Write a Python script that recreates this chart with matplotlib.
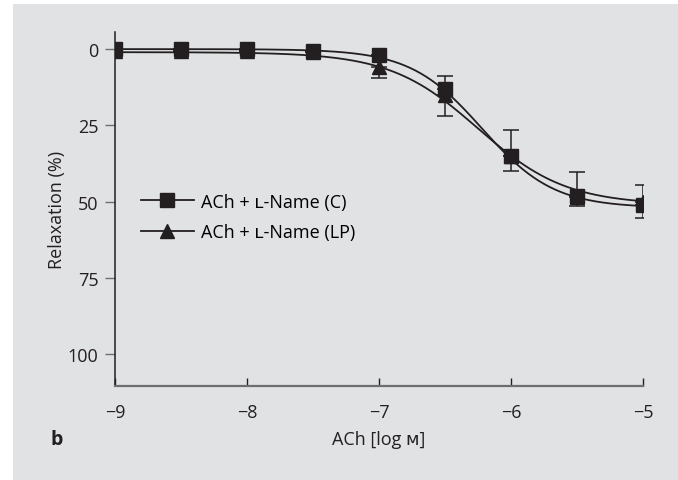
import matplotlib.pyplot as plt
from matplotlib.patches import Rectangle
import numpy as np

plt.rcParams['font.family'] = ['Open Sans', 'DejaVu Sans']

# data
log_ach = [-9, -8.5, -8, -7.5, -7, -6.5, -6, -5.5, -5]
relax_c = [0, 0, 0, 0.5, 2, 13, 35, 48, 51]
err_c = [0, 0, 0, 0, 0, 4.3, 8.5, 7.6, 6.5]  # drawn upward
relax_lp = [0.5, 0.5, 0.5, 1, 6, 15, 35, 48.5, 50]
err_lp = [0, 0, 0, 0, 3.5, 7, 5, 3, 5.4]  # drawn downward

# sigmoid fit parameters (top, bottom, logEC50, hill)
fit_c = [0, 52, -6.22, 1.6]
fit_lp = [1, 51, -6.25, 1.3]

x_ticks = [-9, -8, -7, -6, -5]
y_ticks = [0, 25, 50, 75, 100]

ink = '#231f20'
fs = 13

fig = plt.figure(figsize=(6.78, 4.81), dpi=100)
fig.patches.append(Rectangle((13 / 678, 0), 1, 1 - 5 / 481, transform=fig.transFigure,
                             facecolor='#e1e2e4', edgecolor='none', zorder=-10))
ax = fig.add_axes([115 / 678, 1 - 387 / 481, 528 / 678, (387 - 33) / 481])
ax.patch.set_visible(False)


def sigmoid(x, p):
    top, bottom, ec50, hill = p
    return top + (bottom - top) / (1 + 10 ** (hill * (ec50 - x)))


xs = np.linspace(-9, -5, 300)
ax.plot(xs, sigmoid(xs, fit_c), color=ink, lw=1.3, zorder=2)
ax.plot(xs, sigmoid(xs, fit_lp), color=ink, lw=1.3, zorder=2)

ax.errorbar(log_ach, relax_lp, yerr=[np.zeros(len(err_lp)), err_lp], fmt='none',
            ecolor=ink, elinewidth=1.1, capsize=5.5, capthick=1.1, zorder=3)
ax.errorbar(log_ach, relax_c, yerr=[err_c, np.zeros(len(err_c))], fmt='none',
            ecolor=ink, elinewidth=1.1, capsize=5.5, capthick=1.1, zorder=3)
ax.plot(log_ach, relax_lp, '^', color=ink, ms=10.5, ls='none', zorder=4)
ax.plot(log_ach, relax_c, 's', color=ink, ms=10.5, ls='none', zorder=5)

# legend handles
ax.plot([], [], color=ink, lw=1.3, marker='s', ms=10.5, label='ACh + ʟ-Name (C)')
ax.plot([], [], color=ink, lw=1.3, marker='^', ms=10.5, label='ACh + ʟ-Name (LP)')
ax.legend(loc='center left', bbox_to_anchor=(125 / 678, 1 - 218 / 481),
          bbox_transform=fig.transFigure, frameon=False, fontsize=fs,
          handlelength=2.9, handletextpad=0.4, labelspacing=0.7)

ax.set_xlim(-9, -5)
ax.set_ylim(110.4, -5.6)
ax.set_xticks(x_ticks)
ax.set_xticklabels(['\u2212' + str(abs(t)) for t in x_ticks])
ax.set_yticks(y_ticks)
ax.spines['top'].set_visible(False)
ax.spines['right'].set_visible(False)
ax.spines['left'].set_color(ink)
ax.spines['bottom'].set_color('#6d6e70')
ax.spines['left'].set_linewidth(1.1)
ax.spines['bottom'].set_linewidth(1.6)
ax.tick_params(axis='y', direction='out', length=7, width=1, color='#6d6e70',
               labelsize=fs, labelcolor=ink, pad=5)
ax.tick_params(axis='x', direction='in', length=6, width=1, color=ink,
               labelsize=fs, labelcolor=ink, pad=12)

ax.set_ylabel('Relaxation (%)', fontsize=fs, color=ink)
ax.yaxis.set_label_coords(-0.092, 0.5)
ax.set_xlabel('ACh [log ᴍ]', fontsize=fs, color=ink)
ax.xaxis.set_label_coords(0.5, -0.125)
fig.text(50 / 678, 1 - 440 / 481, 'b', fontsize=14, fontweight='bold',
         color=ink, ha='left', va='center')

fig.savefig('out.png', dpi=100)
